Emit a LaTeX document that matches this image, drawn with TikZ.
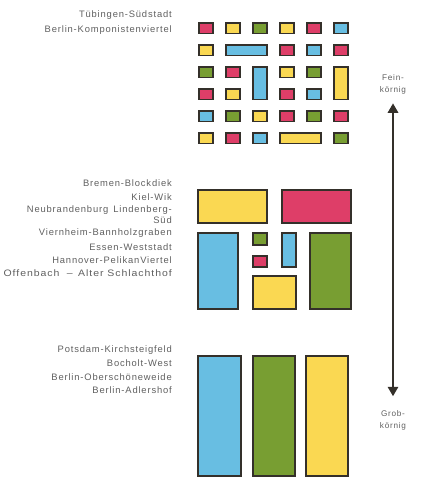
\documentclass[tikz,border=0pt]{standalone}
\usepackage{fontspec}
\setmainfont{Liberation Sans}[LetterSpace=9]
\usepackage{graphicx}
\usepackage{tikz}
\usetikzlibrary{arrows.meta}
\usetikzlibrary{positioning}
\definecolor{kred}{RGB}{222,62,104}
\definecolor{kyellow}{RGB}{250,216,82}
\definecolor{kgreen}{RGB}{120,158,50}
\definecolor{kblue}{RGB}{104,190,226}
\definecolor{kline}{RGB}{52,48,42}
\definecolor{ktext}{RGB}{95,95,95}
\tikzset{blk/.style = {draw=kline, line width=1.2pt}}
\tikzset{ort/.style = {anchor=east, text=ktext, font=\fontsize{8}{9.5}\selectfont, inner sep=0}}
\tikzset{korn/.style = {align=center, text=ktext, font=\fontsize{7}{10}\selectfont, inner sep=0}}

\begin{document}
\begin{tikzpicture}[x=0.03cm,y=-0.03cm]
        \useasboundingbox (0,0) rectangle (426,486);
        % fine grid
        \foreach \c/\r/\w/\h/\col in {1/1/1/1/kred,2/1/1/1/kyellow,3/1/1/1/kgreen,4/1/1/1/kyellow,5/1/1/1/kred,6/1/1/1/kblue,
                1/2/1/1/kyellow,2/2/2/1/kblue,4/2/1/1/kred,5/2/1/1/kblue,6/2/1/1/kred,
                1/3/1/1/kgreen,2/3/1/1/kred,3/3/1/2/kblue,4/3/1/1/kyellow,5/3/1/1/kgreen,6/3/1/2/kyellow,
                1/4/1/1/kred,2/4/1/1/kyellow,4/4/1/1/kred,5/4/1/1/kblue,
                1/5/1/1/kblue,2/5/1/1/kgreen,3/5/1/1/kyellow,4/5/1/1/kred,5/5/1/1/kgreen,6/5/1/1/kred,
                1/6/1/1/kyellow,2/6/1/1/kred,3/6/1/1/kblue,4/6/2/1/kyellow,6/6/1/1/kgreen}
            \filldraw [blk, fill=\col] ({199+27*(\c-1)},{23+22*(\r-1)}) rectangle ++({14+27*(\w-1)},{10.5+22*(\h-1)});
        % medium blocks
        \filldraw [blk, fill=kyellow] (198,190) rectangle (267,223);
        \filldraw [blk, fill=kred] (282,190) rectangle (351,223);
        \filldraw [blk, fill=kblue] (198,233) rectangle (238,309);
        \filldraw [blk, fill=kgreen] (253,233) rectangle (267,245);
        \filldraw [blk, fill=kred] (253,256) rectangle (267,267);
        \filldraw [blk, fill=kblue] (282,233) rectangle (296,267);
        \filldraw [blk, fill=kyellow] (253,276) rectangle (296,309);
        \filldraw [blk, fill=kgreen] (310,233) rectangle (351,309);
        % coarse blocks
        \filldraw [blk, fill=kblue] (198,356) rectangle (241,476);
        \filldraw [blk, fill=kgreen] (253,356) rectangle (295,476);
        \filldraw [blk, fill=kyellow] (306,356) rectangle (348,476);
        % labels
        \node [ort] (tuebingen) at (172,15) {Tübingen-Südstadt};
        \node [ort] (komponisten) at (172,30) {Berlin-Komponistenviertel};
        \node [ort] (bremen) at (172,183) {Bremen-Blockdiek};
        \node [ort] (kiel) at (172,197) {Kiel-Wik};
        \node [ort, align=right] (neubrandenburg) at (172,214.5) {Neubrandenburg\, Lindenberg-\\Süd};
        \node [ort] (viernheim) at (172,233) {Viernheim-Bannholzgraben};
        \node [ort] (essen) at (172,247) {Essen-Weststadt};
        \node [ort] (hannover) at (172,260) {Hannover-PelikanViertel};
        \node [ort] (offenbach) at (172,273) {\scalebox{1.12}[1]{Offenbach\,\, –\, Alter Schlachthof}};
        \node [ort] (potsdam) at (172,350) {Potsdam-Kirchsteigfeld};
        \node [ort] (bocholt) at (172,363) {Bocholt-West};
        \node [ort] (oberschoene) at (172,377) {Berlin-Oberschöneweide};
        \node [ort] (adlershof) at (172,390) {Berlin-Adlershof};
        % scale arrow
        \node [korn] (fein) at (393,84.5) {Fein-\\körnig};
        \node [korn] (grob) at (393,420.5) {Grob-\\körnig};
        \draw [{Triangle[width=9pt,length=8pt]}-{Triangle[width=9pt,length=8pt]}, draw=kline, line width=1.2pt, shorten <=7.7pt, shorten >=12.3pt] (fein) -- (grob);
    \end{tikzpicture}
\end{document}
